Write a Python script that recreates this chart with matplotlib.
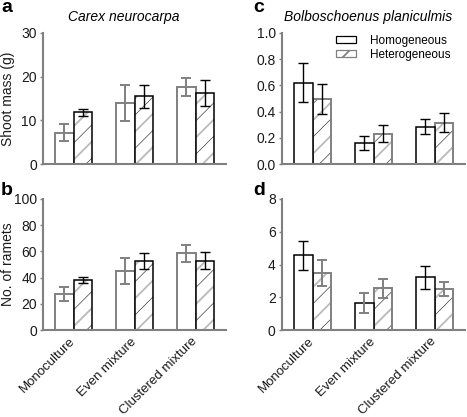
import matplotlib
matplotlib.use("Agg")
import matplotlib.pyplot as plt
from matplotlib.patches import Patch
import numpy as np

plt.rcParams['font.family'] = ['Liberation Sans', 'DejaVu Sans']

categories = ["Monoculture", "Even mixture", "Clustered mixture"]
series = ["Homogeneous", "Heterogeneous"]

# Panel a: Carex neurocarpa shoot mass (g)
a_hom = [7.2, 13.9, 17.6]
a_hom_err = [1.85, 4.15, 2.1]
a_het = [11.8, 15.5, 16.2]
a_het_err = [0.85, 2.6, 2.95]

# Panel b: Carex neurocarpa no. of ramets
b_hom = [27.4, 45.2, 58.6]
b_hom_err = [5.4, 10.0, 6.4]
b_het = [38.1, 52.5, 53.0]
b_het_err = [2.0, 6.0, 6.4]

# Panel c: Bolboschoenus planiculmis shoot mass (g)
c_hom = [0.621, 0.159, 0.285]
c_hom_err = [0.147, 0.051, 0.059]
c_het = [0.497, 0.232, 0.316]
c_het_err = [0.112, 0.064, 0.071]

# Panel d: Bolboschoenus planiculmis no. of ramets
d_hom = [4.56, 1.65, 3.22]
d_hom_err = [0.90, 0.61, 0.70]
d_het = [3.50, 2.54, 2.50]
d_het_err = [0.80, 0.57, 0.41]

GRAY = "#808080"
BLACK = "#000000"
HATCH_GRAY = "#bdbdbd"

fig = plt.figure(figsize=(4.67, 4.17), dpi=100)

W = 183 / 467
H = 131 / 417
pos = {
    'a': [43 / 467, 1 - 164 / 417, W, H],
    'b': [43 / 467, 1 - 330 / 417, W, H],
    'c': [282 / 467, 1 - 164 / 417, W, H],
    'd': [282 / 467, 1 - 330 / 417, W, H],
}

panels = {
    'a': dict(hom=a_hom, homerr=a_hom_err, het=a_het, heterr=a_het_err,
              ylim=(0, 30), yticks=[0, 10, 20, 30], fmt="{:g}",
              hom_edge=GRAY, het_edge=BLACK,
              hom_ec=[GRAY, GRAY, GRAY], het_ec=[BLACK, BLACK, BLACK],
              hom_on_top=False, ylabel="Shoot mass (g)", xlabels=False),
    'b': dict(hom=b_hom, homerr=b_hom_err, het=b_het, heterr=b_het_err,
              ylim=(0, 100), yticks=[0, 20, 40, 60, 80, 100], fmt="{:g}",
              hom_edge=GRAY, het_edge=BLACK,
              hom_ec=[GRAY, GRAY, GRAY], het_ec=[BLACK, BLACK, BLACK],
              hom_on_top=False, ylabel="No. of ramets", xlabels=True),
    'c': dict(hom=c_hom, homerr=c_hom_err, het=c_het, heterr=c_het_err,
              ylim=(0, 1.0), yticks=[0.0, 0.2, 0.4, 0.6, 0.8, 1.0], fmt="{:.1f}",
              hom_edge=BLACK, het_edge=GRAY,
              hom_ec=[BLACK, BLACK, BLACK], het_ec=[BLACK, BLACK, BLACK],
              hom_on_top=True, ylabel=None, xlabels=False),
    'd': dict(hom=d_hom, homerr=d_hom_err, het=d_het, heterr=d_het_err,
              ylim=(0, 8), yticks=[0, 2, 4, 6, 8], fmt="{:g}",
              hom_edge=BLACK, het_edge=GRAY,
              hom_ec=[BLACK, GRAY, BLACK], het_ec=[GRAY, GRAY, GRAY],
              hom_on_top=True, ylabel=None, xlabels=True),
}

x = np.arange(len(categories))
bw = 0.31

for key, p in panels.items():
    ax = fig.add_axes(pos[key])
    ax.set_xlim(-0.5, 2.5)
    ax.set_ylim(*p['ylim'])

    def draw_hom(z):
        ax.bar(x - bw / 2, p['hom'], bw, color='white', edgecolor=p['hom_edge'],
               linewidth=1.4 if p['hom_edge'] == GRAY else 1.1, zorder=z)

    def draw_het(z):
        ax.bar(x + bw / 2, p['het'], bw, color='white', edgecolor='none',
               linewidth=0, zorder=z)
        plt.rcParams['hatch.linewidth'] = 0.5
        ax.bar(x + bw / 2, p['het'], bw, color='none', edgecolor='#404040',
               linewidth=0, hatch='//', zorder=z + 0.1)
        plt.rcParams['hatch.linewidth'] = 1.3
        ax.bar(x + bw / 2, p['het'], bw, color='none', edgecolor=HATCH_GRAY,
               linewidth=0, hatch='/', zorder=z + 0.2)
        ax.bar(x + bw / 2, p['het'], bw, color='none', edgecolor=p['het_edge'],
               linewidth=1.4 if p['het_edge'] == GRAY else 1.1, zorder=z + 0.3)

    if p['hom_on_top']:
        draw_het(2)
        draw_hom(3)
    else:
        draw_hom(2)
        draw_het(3)

    for i in range(len(categories)):
        c1 = p['hom_ec'][i]
        ax.errorbar(x[i] - bw / 2, p['hom'][i], yerr=p['homerr'][i], fmt='none',
                    ecolor=c1, elinewidth=1.4 if c1 == GRAY else 1.0,
                    capsize=3.5, capthick=1.4 if c1 == GRAY else 1.0, zorder=5)
        c2 = p['het_ec'][i]
        ax.errorbar(x[i] + bw / 2, p['het'][i], yerr=p['heterr'][i], fmt='none',
                    ecolor=c2, elinewidth=1.4 if c2 == GRAY else 1.0,
                    capsize=3.5, capthick=1.4 if c2 == GRAY else 1.0, zorder=5)

    for s in ['top', 'right']:
        ax.spines[s].set_visible(False)
    for s in ['left', 'bottom']:
        ax.spines[s].set_color(GRAY)
        ax.spines[s].set_linewidth(1.5)
    ax.spines['bottom'].set_zorder(6)

    ax.set_yticks(p['yticks'])
    ax.set_yticklabels([p['fmt'].format(v) for v in p['yticks']])
    ax.tick_params(axis='y', direction='out', length=2.5, width=1.0,
                   color=GRAY, labelsize=10, pad=2, labelcolor='#1a1a1a')
    ax.set_xticks(x)
    ax.tick_params(axis='x', length=0, labelsize=9.5, pad=7, labelcolor='#1a1a1a')
    if p['xlabels']:
        ax.set_xticklabels(categories, rotation=45, ha='right', va='center',
                           rotation_mode='anchor')
    else:
        ax.set_xticklabels([])
    if p['ylabel']:
        ax.set_ylabel(p['ylabel'], fontsize=10, color='#1a1a1a')
        ax.yaxis.set_label_coords(-28 / 183, 0.5)

    if key == 'c':
        handles = [Patch(facecolor='white', edgecolor=BLACK, linewidth=0.9),
                   Patch(facecolor='white', edgecolor=GRAY, hatch='//', linewidth=0.9)]
        leg = ax.legend(handles, series, loc='upper right', frameon=False,
                        fontsize=8.5, handlelength=1.7, handleheight=0.6,
                        handletextpad=1.2, labelspacing=0.15,
                        bbox_to_anchor=(0.96, 1.04), borderaxespad=0.2)

# Panel letters and titles
fig.text(1 / 467, 1 - 7 / 417, 'a', fontsize=14, fontweight='bold', va='center', ha='left')
fig.text(1 / 467, 1 - 190 / 417, 'b', fontsize=14, fontweight='bold', va='center', ha='left')
fig.text(253 / 467, 1 - 7 / 417, 'c', fontsize=14, fontweight='bold', va='center', ha='left')
fig.text(253 / 467, 1 - 190 / 417, 'd', fontsize=14, fontweight='bold', va='center', ha='left')
fig.text(124 / 467, 1 - 17 / 417, 'Carex neurocarpa', fontsize=10, style='italic',
         ha='center', va='center')
fig.text(368 / 467, 1 - 17 / 417, 'Bolboschoenus planiculmis', fontsize=10, style='italic',
         ha='center', va='center')

fig.savefig('out.png', dpi=100)
